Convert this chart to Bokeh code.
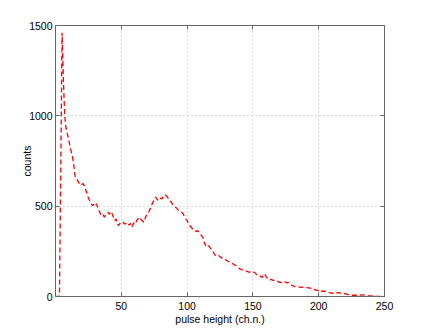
from bokeh.plotting import figure
from bokeh.models import LinearAxis, FixedTicker, Range1d
from bokeh.embed import file_html
from bokeh.resources import INLINE

channel = list(range(0, 251))
counts = [
    0, 0, 0, 0, 700, 1460, 1200, 1000, 930, 900,          # 0-9
    870, 830, 800, 770, 720, 660, 650, 640, 625, 630,     # 10-19
    620, 625, 612, 590, 570, 545, 530, 515, 503, 510,     # 20-29
    500, 513, 495, 476, 460, 448, 455, 440, 448, 460,     # 30-39
    466, 455, 470, 458, 440, 420, 430, 400, 393, 405,     # 40-49
    411, 415, 405, 400, 410, 402, 395, 405, 384, 400,     # 50-59
    411, 405, 425, 430, 439, 425, 420, 411, 430, 448,     # 60-69
    460, 470, 485, 505, 522, 535, 550, 540, 531, 540,     # 70-79
    545, 540, 555, 564, 560, 550, 540, 530, 522, 510,     # 80-89
    500, 494, 490, 480, 476, 470, 465, 458, 440, 430,     # 90-99
    421, 405, 393, 385, 375, 365, 362, 360, 365, 356,     # 100-109
    345, 335, 328, 300, 282, 290, 282, 275, 265, 255,     # 110-119
    245, 230, 227, 232, 227, 220, 215, 210, 209, 205,     # 120-129
    200, 195, 192, 190, 185, 180, 175, 172, 165, 160,     # 130-139
    153, 150, 148, 145, 144, 140, 138, 135, 135, 130,     # 140-149
    133, 135, 128, 120, 118, 116, 110, 105, 118, 126,     # 150-159
    110, 100, 92, 92, 95, 90, 89, 89, 85, 82,             # 160-169
    79, 79, 76, 74, 80, 79, 75, 79, 70, 65,               # 170-179
    60, 58, 55, 53, 52, 52, 52, 50, 52, 50,               # 180-189
    52, 49, 48, 48, 45, 43, 40, 37, 36, 34,               # 190-199
    33, 38, 30, 29, 30, 29, 28, 25, 22, 20,               # 200-209
    18, 18, 20, 22, 20, 22, 20, 18, 16, 15,               # 210-219
    16, 15, 12, 10, 8, 7, 7, 8, 7, 7,                     # 220-229
    8, 7, 8, 9, 9, 8, 7, 5, 4, 4,                         # 230-239
    4, 4, 3, 2, 1, 0, 1, 0, 1, 0,                         # 240-249
    0,                                                    # 250
]
x_ticks = [50, 100, 150, 200, 250]
y_ticks = [0, 500, 1000, 1500]

FONT = "Liberation Sans"
FS = "10.5px"
AX = "#666666"

p = figure(
    frame_width=329, frame_height=271,
    x_range=Range1d(0, 250), y_range=Range1d(0, 1500),
    output_backend="svg", toolbar_location=None,
    min_border_left=55, min_border_right=25, min_border_top=25, min_border_bottom=20,
)
p.outline_line_color = None
p.background_fill_color = "white"
p.border_fill_color = "white"

p.line(channel, counts, line_color="#ff0000", line_width=1.3, line_dash="5 3")

for ax in (p.xaxis[0], p.yaxis[0]):
    ax.axis_line_color = AX
    ax.major_tick_line_color = AX
    ax.major_tick_in = 4
    ax.major_tick_out = 0
    ax.minor_tick_line_color = None
    ax.major_label_text_font = FONT
    ax.major_label_text_font_size = FS
    ax.major_label_text_color = "black"
    ax.axis_label_text_font = FONT
    ax.axis_label_text_font_size = FS
    ax.axis_label_text_font_style = "normal"
    ax.axis_label_text_color = "black"

p.xaxis[0].ticker = FixedTicker(ticks=x_ticks)
p.yaxis[0].ticker = FixedTicker(ticks=y_ticks)
p.xaxis[0].axis_label = "pulse height (ch.n.)"
p.yaxis[0].axis_label = "counts"
p.xaxis[0].major_label_standoff = 5
p.xaxis[0].axis_label_standoff = 0
p.yaxis[0].major_label_standoff = 3
p.yaxis[0].axis_label_standoff = -7

top = LinearAxis(ticker=FixedTicker(ticks=x_ticks))
right = LinearAxis(ticker=FixedTicker(ticks=y_ticks))
for ax in (top, right):
    ax.axis_line_color = AX
    ax.major_tick_line_color = AX
    ax.major_tick_in = 4
    ax.major_tick_out = 0
    ax.minor_tick_line_color = None
    ax.major_label_text_font_size = "0px"
    ax.major_label_text_color = None
    ax.major_label_standoff = 0
p.add_layout(top, "above")
p.add_layout(right, "right")

p.xgrid.ticker = FixedTicker(ticks=x_ticks)
p.ygrid.ticker = FixedTicker(ticks=y_ticks)
for g in (p.xgrid, p.ygrid):
    g.grid_line_color = "#bbbbbb"
    g.grid_line_dash = "1 3"
    g.grid_line_width = 1

open("out.html", "w").write(file_html(p, INLINE))
